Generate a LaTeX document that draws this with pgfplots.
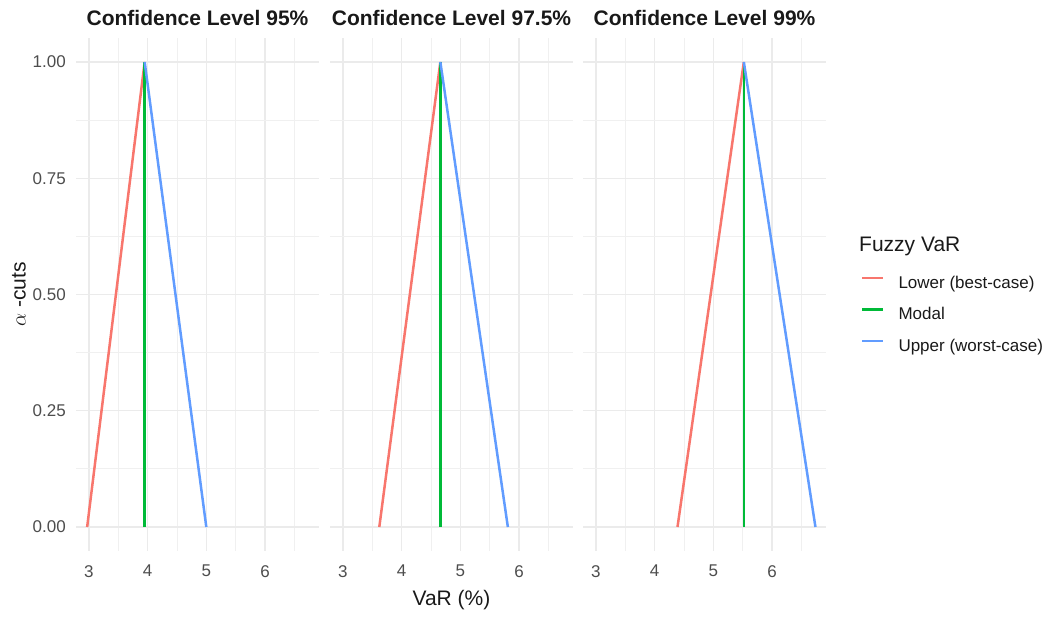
\documentclass[border=0pt]{standalone}
\usepackage{pgfplots}
\pgfplotsset{compat=1.18}
\usepackage{fontspec}
\setmainfont{Liberation Sans}
\definecolor{gred}{HTML}{F8766D}
\definecolor{ggreen}{HTML}{00BA38}
\definecolor{gblue}{HTML}{619CFF}
\definecolor{gridmaj}{HTML}{EBEBEB}
\definecolor{gridmin}{HTML}{F0F0F0}
\definecolor{tickgray}{HTML}{4D4D4D}
\pgfplotsset{
  facet/.style={
    scale only axis, width=243pt, height=513pt,
    xmin=2.78, xmax=6.92, ymin=-0.0516, ymax=1.0516,
    axis line style={draw=none},
    major tick length=0pt, minor tick length=0pt,
    xtick={3,4,5,6}, minor xtick={3.5,4.5,5.5,6.5},
    ytick={0,0.25,0.5,0.75,1}, minor ytick={0.125,0.375,0.625,0.875},
    grid=both,
    major grid style={draw=gridmaj, line width=1.3pt},
    minor grid style={draw=gridmin, line width=0.8pt},
    /pgf/number format/assume math mode=true,
    xticklabel style={font=\fontsize{17}{20}\selectfont, text=tickgray, inner sep=0pt, anchor=north, yshift=-14pt},
    yticklabel style={font=\fontsize{17}{20}\selectfont, text=tickgray, inner sep=0pt, anchor=east, xshift=-10pt,
      /pgf/number format/.cd, fixed, fixed zerofill, precision=2},
    title style={at={(axis description cs:0.5,1)}, anchor=base, yshift=6pt, font=\fontsize{21}{24}\selectfont\bfseries, text=black!90},
    every axis plot/.append style={line width=2.5pt, no markers},
  }
}
\begin{document}
\begin{tikzpicture}
\useasboundingbox (0pt,0pt) rectangle (1049pt,617pt);
% Panel 1
\begin{axis}[facet, at={(76pt,66pt)}, anchor=south west,
  title={Confidence Level 95\%},
  ylabel={$\alpha$ -cuts},
  ylabel style={at={(axis description cs:-0.2346,0.5)}, anchor=center, font=\fontsize{21}{24}\selectfont, text=black!90}]
\addplot[gred] coordinates {(2.97,0) (3.95,1)};
\addplot[ggreen] coordinates {(3.95,0) (3.95,1)};
\addplot[gblue] coordinates {(3.95,1) (5.00,0)};
\end{axis}
% Panel 2
\begin{axis}[facet, at={(330pt,66pt)}, anchor=south west,
  title={Confidence Level 97.5\%},
  yticklabels={},
  xlabel={VaR (\%)},
  xlabel style={at={(axis description cs:0.5,-0.1053)}, anchor=base, font=\fontsize{21}{24}\selectfont, text=black!90}]
\addplot[gred] coordinates {(3.62,0) (4.66,1)};
\addplot[ggreen] coordinates {(4.66,0) (4.66,1)};
\addplot[gblue] coordinates {(4.66,1) (5.81,0)};
\end{axis}
% Panel 3
\begin{axis}[facet, at={(583pt,66pt)}, anchor=south west,
  title={Confidence Level 99\%},
  yticklabels={},
  legend cell align=left,
  legend image code/.code={\draw[#1] (0pt,6pt) -- (21pt,6pt);},
  legend style={at={(axis description cs:1.144,0.536)}, anchor=north west, draw=none, fill=none,
    inner sep=0pt, outer sep=0pt, row sep=15.5pt, column sep=14pt,
    font=\fontsize{17}{20}\selectfont, text=black!90,
    nodes={inner sep=0pt, text height=12pt, text depth=4pt}}]
\addplot[gred] coordinates {(4.39,0) (5.52,1)};
\addlegendentry{Lower (best-case)}
\addplot[ggreen] coordinates {(5.52,0) (5.52,1)};
\addlegendentry{Modal}
\addplot[gblue] coordinates {(5.52,1) (6.74,0)};
\addlegendentry{Upper (worst-case)}
\end{axis}
\node[anchor=base west, inner sep=0pt, font=\fontsize{21}{24}\selectfont, text=black!90] at (859pt,365pt) {Fuzzy VaR};
\end{tikzpicture}
\end{document}
